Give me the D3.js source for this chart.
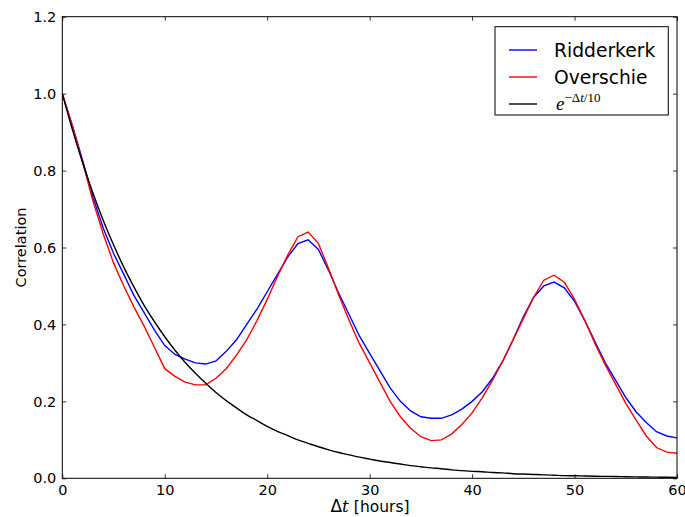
<!DOCTYPE html>
<html>
<head>
<meta charset="utf-8">
<script src="https://cdn.jsdelivr.net/npm/d3@7"></script>
<style>
body { margin: 0; background: #fff; overflow: hidden; }
text { font-family: "DejaVu Sans", sans-serif; }
</style>
</head>
<body>
<div id="chart"></div>
<script>
// hourly lags 0..60
var hours = d3.range(0, 61);

var ridderkerk = [1.0, 0.915, 0.825, 0.73, 0.65, 0.585, 0.53, 0.475, 0.43, 0.385,
	0.345, 0.322, 0.31, 0.30, 0.297, 0.305, 0.33, 0.36, 0.40, 0.44,
	0.485, 0.53, 0.575, 0.61, 0.62, 0.595, 0.54, 0.48, 0.425, 0.37,
	0.325, 0.28, 0.235, 0.20, 0.175, 0.16, 0.156, 0.156, 0.165, 0.18,
	0.20, 0.225, 0.26, 0.305, 0.36, 0.42, 0.47, 0.50, 0.51, 0.495,
	0.46, 0.41, 0.355, 0.30, 0.255, 0.21, 0.173, 0.145, 0.121, 0.11, 0.105];

var overschie = [1.0, 0.915, 0.82, 0.72, 0.635, 0.56, 0.50, 0.445, 0.395, 0.34,
	0.285, 0.265, 0.25, 0.243, 0.243, 0.26, 0.285, 0.32, 0.36, 0.41,
	0.465, 0.525, 0.58, 0.628, 0.64, 0.61, 0.545, 0.475, 0.41, 0.35,
	0.30, 0.25, 0.20, 0.16, 0.13, 0.108, 0.098, 0.10, 0.115, 0.14,
	0.17, 0.21, 0.255, 0.305, 0.36, 0.415, 0.47, 0.515, 0.528, 0.51,
	0.465, 0.41, 0.35, 0.295, 0.245, 0.195, 0.152, 0.11, 0.08, 0.068, 0.065];

var expDecay = [1.000, 0.905, 0.819, 0.741, 0.670, 0.607, 0.549, 0.497, 0.449, 0.407,
	0.368, 0.333, 0.301, 0.273, 0.247, 0.223, 0.202, 0.183, 0.165, 0.150,
	0.135, 0.122, 0.111, 0.100, 0.091, 0.082, 0.074, 0.067, 0.061, 0.055,
	0.050, 0.045, 0.041, 0.037, 0.033, 0.030, 0.027, 0.025, 0.022, 0.020,
	0.018, 0.017, 0.015, 0.014, 0.012, 0.011, 0.010, 0.009, 0.008, 0.007,
	0.0067, 0.0061, 0.0055, 0.0050, 0.0045, 0.0041, 0.0037, 0.0033, 0.0030, 0.0027, 0.0025];

var xTicks = [0, 10, 20, 30, 40, 50, 60];
var yTicks = [0.0, 0.2, 0.4, 0.6, 0.8, 1.0, 1.2];

var width = 685, height = 517;
var plotLeft = 62.3, plotRight = 677, plotTop = 16.7, plotBottom = 478.3;

var svg = d3.select("#chart").append("svg")
	.attr("width", width)
	.attr("height", height);

var x = d3.scaleLinear().domain([0, 60]).range([plotLeft, plotRight]);
var y = d3.scaleLinear().domain([0, 1.2]).range([plotBottom, plotTop]);

svg.append("clipPath").attr("id", "clip")
	.append("rect")
	.attr("x", plotLeft).attr("y", plotTop)
	.attr("width", plotRight - plotLeft).attr("height", plotBottom - plotTop);

var line = d3.line()
	.x(function (d) { return x(d[0]); })
	.y(function (d) { return y(d[1]); });

var series = [
	{ values: ridderkerk, color: "#0000ff", curve: d3.curveLinear },
	{ values: overschie, color: "#ff0000", curve: d3.curveLinear },
	{ values: expDecay, color: "#000000", curve: d3.curveMonotoneX }
];

series.forEach(function (s) {
	svg.append("path")
		.datum(d3.zip(hours, s.values))
		.attr("clip-path", "url(#clip)")
		.attr("fill", "none")
		.attr("stroke", s.color)
		.attr("stroke-width", 1.4)
		.attr("d", line.curve(s.curve));
});

// ticks pointing inward, on all four sides
var tickLen = 4;
function fmt(d) { return d.toFixed(1); }

var xAxisB = svg.append("g").attr("transform", "translate(0," + plotBottom + ")")
	.call(d3.axisBottom(x).tickValues(xTicks).tickSizeInner(-tickLen).tickSizeOuter(0).tickPadding(6));
var xAxisT = svg.append("g").attr("transform", "translate(0," + plotTop + ")")
	.call(d3.axisTop(x).tickValues(xTicks).tickSizeInner(-tickLen).tickSizeOuter(0).tickFormat(""));
var yAxisL = svg.append("g").attr("transform", "translate(" + plotLeft + ",0)")
	.call(d3.axisLeft(y).tickValues(yTicks).tickSizeInner(-tickLen).tickSizeOuter(0).tickPadding(6).tickFormat(fmt));
var yAxisR = svg.append("g").attr("transform", "translate(" + plotRight + ",0)")
	.call(d3.axisRight(y).tickValues(yTicks).tickSizeInner(-tickLen).tickSizeOuter(0).tickFormat(""));

[xAxisB, xAxisT, yAxisL, yAxisR].forEach(function (a) {
	a.select(".domain").remove();
	a.selectAll(".tick line").attr("stroke", "#000").attr("stroke-width", 0.8);
	a.selectAll("text")
		.style("font-family", "'DejaVu Sans', sans-serif")
		.style("font-size", "14.5px")
		.attr("fill", "#000");
});

// frame
svg.append("rect")
	.attr("x", plotLeft).attr("y", plotTop)
	.attr("width", plotRight - plotLeft).attr("height", plotBottom - plotTop)
	.attr("fill", "none")
	.attr("stroke", "#000")
	.attr("stroke-width", 1);

// axis labels
svg.append("text")
	.attr("transform", "translate(26," + ((plotTop + plotBottom) / 2) + ") rotate(-90)")
	.attr("text-anchor", "middle")
	.style("font-size", "14.5px")
	.text("Correlation");

var xl = svg.append("text")
	.attr("x", 370)
	.attr("y", 512)
	.attr("text-anchor", "middle")
	.style("font-size", "15.5px");
xl.append("tspan").style("font-family", "'DejaVu Sans', sans-serif").style("font-size", "17px").text("Δ");
xl.append("tspan").style("font-family", "'DejaVu Serif', serif").style("font-style", "italic").style("font-size", "17px").text("t");
xl.append("tspan").text(" [hours]");

// legend
var legendNames = ["Ridderkerk", "Overschie"];
var legendColors = ["#0000ff", "#ff0000", "#000000"];
var lx = 495, ly = 26.7, lw = 173.3, lh = 88.3;

var legend = svg.append("g");
legend.append("rect")
	.attr("x", lx).attr("y", ly)
	.attr("width", lw).attr("height", lh)
	.attr("fill", "#fff")
	.attr("stroke", "#000")
	.attr("stroke-width", 1);

legendColors.forEach(function (c, i) {
	var yy = 50 + i * 27;
	legend.append("line")
		.attr("x1", 509).attr("x2", 537)
		.attr("y1", yy).attr("y2", yy)
		.attr("stroke", c)
		.attr("stroke-width", 1.4);
	if (i < 2) {
		legend.append("text")
			.attr("x", 554).attr("y", yy + 7)
			.style("font-size", "18.7px")
			.text(legendNames[i]);
	}
});

var mt = legend.append("text")
	.attr("x", 556).attr("y", 50 + 2 * 27 + 6)
	.style("font-family", "'Liberation Serif', serif");
mt.append("tspan").style("font-style", "italic").style("font-size", "19px").text("e");
mt.append("tspan").attr("dy", -8).style("font-size", "13px").text("−Δ");
mt.append("tspan").style("font-style", "italic").style("font-size", "13px").text("t");
mt.append("tspan").style("font-size", "13px").text("/10");
</script>
</body>
</html>
